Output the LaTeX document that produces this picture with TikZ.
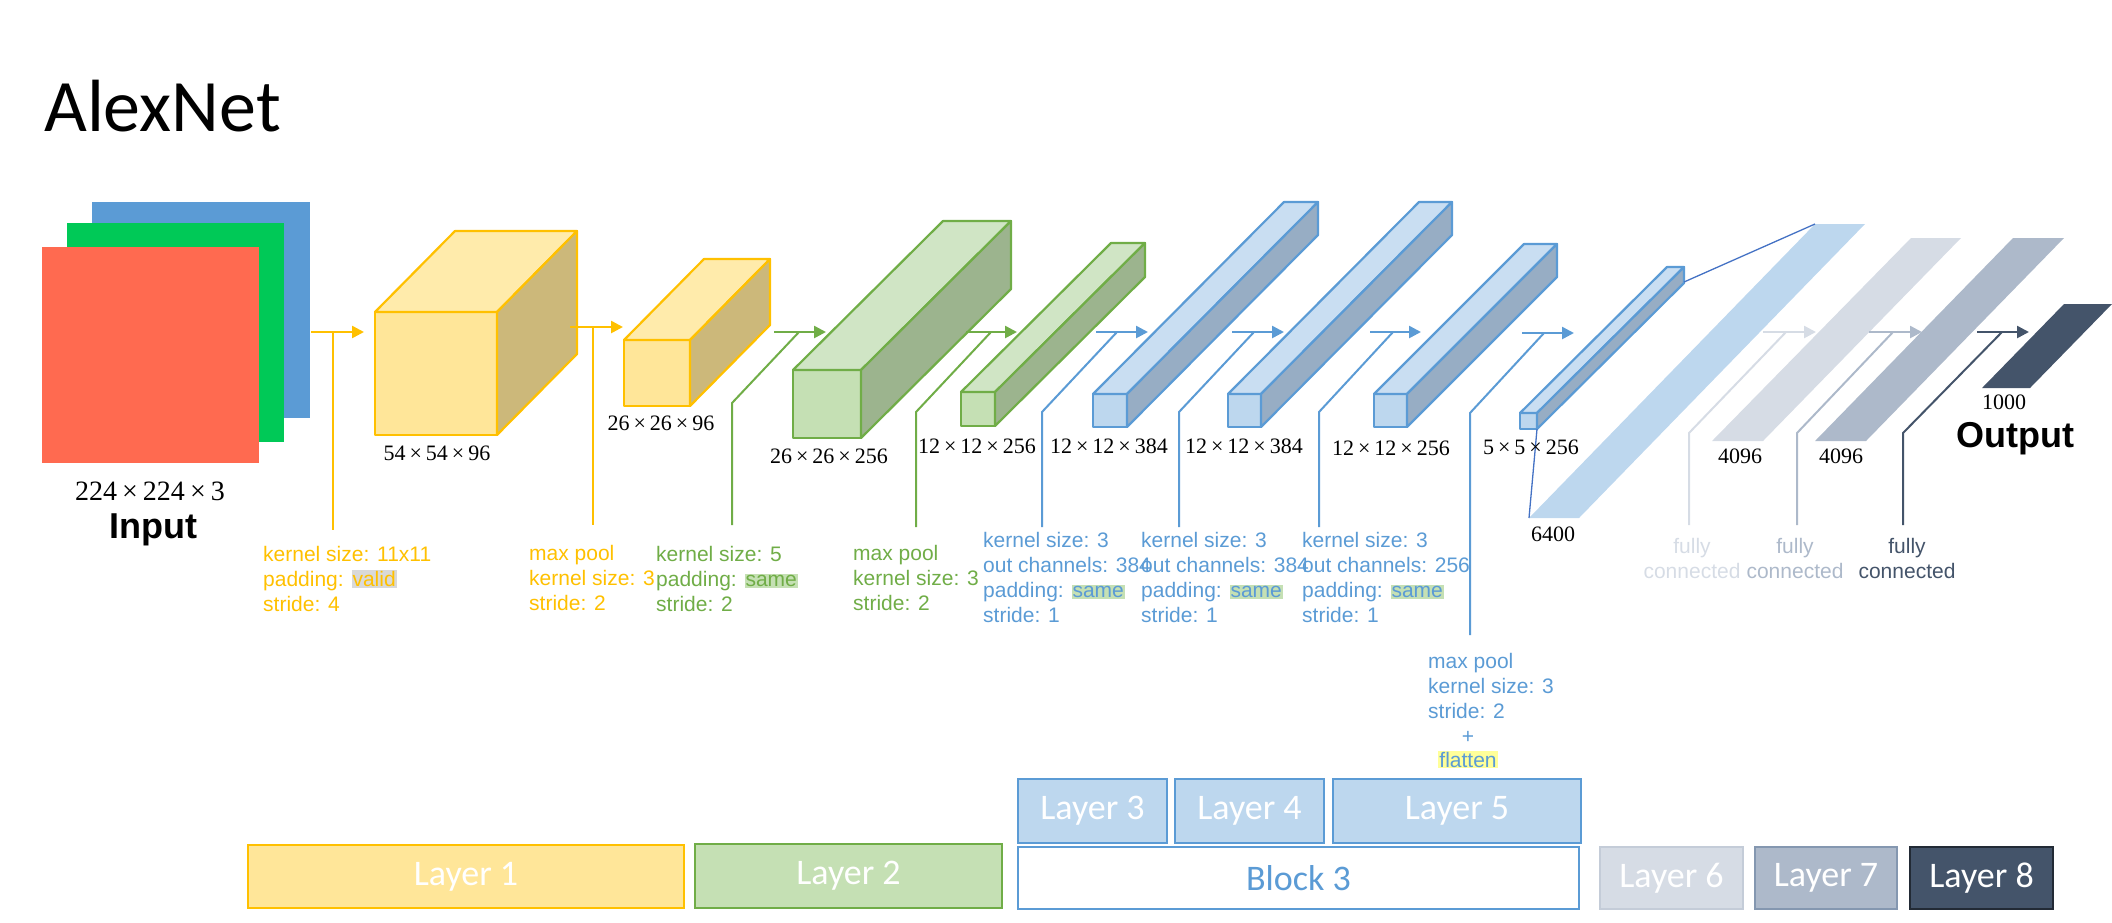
\documentclass[tikz,border=0pt]{standalone}
\usepackage{fontspec}
\newfontfamily\arial{Liberation Sans}
\newfontfamily\calib{Carlito}
\newfontfamily\cmb{Liberation Serif}
\usetikzlibrary{arrows.meta}
\definecolor{yel}{HTML}{FFC000}
\definecolor{yelF}{HTML}{FFE699}
\definecolor{yelT}{HTML}{FFEBAB}
\definecolor{yelS}{HTML}{CCB87A}
\definecolor{grn}{HTML}{70AD47}
\definecolor{grnF}{HTML}{C5E0B4}
\definecolor{grnT}{HTML}{D0E5C5}
\definecolor{grnS}{HTML}{9CB48E}
\definecolor{blu}{HTML}{5B9BD5}
\definecolor{bluF}{HTML}{BDD7EE}
\definecolor{bluT}{HTML}{C9DEF2}
\definecolor{bluS}{HTML}{97ADC4}
\definecolor{lsix}{HTML}{D6DCE5}
\definecolor{lsixB}{HTML}{C4CCD8}
\definecolor{lseven}{HTML}{ADB9CA}
\definecolor{lsevenB}{HTML}{8497B0}
\definecolor{leight}{HTML}{44546A}
\definecolor{leightB}{HTML}{222A35}
\definecolor{inB}{HTML}{5B9BD5}
\definecolor{inG}{HTML}{00C957}
\definecolor{inR}{HTML}{FF6A50}
\definecolor{linkB}{HTML}{4472C4}
\definecolor{glowG}{HTML}{C5E0B4}
\definecolor{glowV}{HTML}{D9D9D9}
\definecolor{glowY}{HTML}{FFFF99}
\newcommand{\hlw}[2]{{\setlength{\fboxsep}{1pt}\colorbox{#1}{#2}}}
\newcommand{\X}{\kern.18em×\kern.18em}
% cuboid: name, x, y, w, h, dx, dy(up), colour prefix
\newcommand{\cuboid}[8]{%
  \coordinate (#1) at (#2,#3);
  \filldraw[fill=#8F, draw=#8, boxline] (#2,#3) rectangle ++(#4,#5);
  \filldraw[fill=#8T, draw=#8, boxline] (#2,#3) -- ++(#6,-#7) -- ++(#4,0) -- ++(-#6,#7) -- cycle;
  \filldraw[fill=#8S, draw=#8, boxline] (#2+#4,#3) -- ++(#6,-#7) -- ++(0,#5) -- ++(-#6,#7) -- cycle;
}
\begin{document}
\begin{tikzpicture}[x=1pt,y=-1pt,
  boxline/.style={line width=2.2pt, line join=round},
  arr/.style={line width=2.5pt, -{Triangle[length=12pt,width=12pt]}},
  conn/.style={line width=2pt},
  annot/.style={anchor=north west, inner sep=0pt, align=left, font=\arial\fontsize{21}{25}\selectfont},
  fcl/.style={anchor=north, inner sep=0pt, align=center, font=\arial\fontsize{21}{25}\selectfont},
  dimlab/.style={anchor=base, inner sep=0pt, font=\cmb\fontsize{22}{26}\selectfont},
  numlab/.style={anchor=base, inner sep=0pt, font=\cmb\fontsize{22}{26}\selectfont},
  biglab/.style={anchor=base, inner sep=0pt, font=\arial\bfseries\fontsize{36}{40}\selectfont},
  lbox/.style={draw, line width=2pt, inner sep=0pt, font=\calib\fontsize{36}{40}\selectfont, text=white}]
\useasboundingbox (0,0) rectangle (2112,922);

% title
\node[anchor=base west, inner sep=0pt, font=\calib\fontsize{74}{80}\selectfont] (title) at (44,131) {AlexNet};

% input
\fill[inB] (92,202) rectangle (310,418);
\fill[inG] (67,223) rectangle (284,442);
\fill[inR] (42,247) rectangle (259,463);
\node[dimlab, font=\cmb\fontsize{28}{32}\selectfont] (inDim) at (150,500) {224\X224\X3};
\node[biglab] (inLab) at (153,538) {Input};

% cuboids
\cuboid{b1}{375}{312}{122}{123}{80}{81}{yel}
\cuboid{b2}{624}{340}{66}{66}{80}{81}{yel}
\cuboid{b3}{793}{370}{68}{68}{150}{149}{grn}
\cuboid{b4}{961}{392}{34}{34}{150}{149}{grn}
\cuboid{b5}{1093}{394}{34}{33}{191}{192}{blu}
\cuboid{b6}{1228}{394}{33}{33}{191}{192}{blu}
\cuboid{b7}{1374}{394}{33}{33}{150}{150}{blu}
\cuboid{b8}{1520}{413}{17}{16}{147}{146}{blu}

% flat layers
\fill[bluF] (1815,224) -- (1865,224) -- (1579,518) -- (1529,518) -- cycle;
\coordinate (p1tl) at (1815,224);
\coordinate (p1bl) at (1529,518);
\fill[lsix] (1911,238) -- (1961,238) -- (1763,441) -- (1712,441) -- cycle;
\fill[lseven] (2013,238) -- (2064,238) -- (1866,441) -- (1815,441) -- cycle;
\fill[leight] (2064,304) -- (2112,304) -- (2030,388) -- (1982,388) -- cycle;

% links from 5x5x256 to the flattened vector
\coordinate (b8tr) at (1684,282);
\coordinate (b8br) at (1537,429);
\draw[linkB, line width=1.3pt] (b8tr) -- (p1tl);
\draw[linkB, line width=1.3pt] (b8br) -- (p1bl);

% size labels
\node[dimlab] (d1) at (437,460) {54\X54\X96};
\node[dimlab] (d2) at (661,430) {26\X26\X96};
\node[dimlab] (d3) at (829,463) {26\X26\X256};
\node[dimlab] (d4) at (977,453) {12\X12\X256};
\node[dimlab] (d5) at (1109,453) {12\X12\X384};
\node[dimlab] (d6) at (1244,453) {12\X12\X384};
\node[dimlab] (d7) at (1391,455) {12\X12\X256};
\node[dimlab] (d8) at (1531,454) {5\X5\X256};
\node[numlab] (d9) at (1553,541) {6400};
\node[numlab] (d10) at (1740,463) {4096};
\node[numlab] (d11) at (1841,463) {4096};
\node[numlab] (d12) at (2004,409) {1000};
\node[biglab] (outLab) at (2015,447) {Output};

% arrows
\coordinate (a1s) at (311,332);  \coordinate (a1e) at (364,332);
\coordinate (a2s) at (570,327);  \coordinate (a2e) at (623,327);
\coordinate (a3s) at (774,332);  \coordinate (a3e) at (826,332);
\coordinate (a4s) at (966,332);  \coordinate (a4e) at (1017,332);
\coordinate (a5s) at (1096,332); \coordinate (a5e) at (1148,332);
\coordinate (a6s) at (1232,332); \coordinate (a6e) at (1284,332);
\coordinate (a7s) at (1370,332); \coordinate (a7e) at (1421,332);
\coordinate (a8s) at (1522,333); \coordinate (a8e) at (1574,333);
\coordinate (a9s) at (1763,332); \coordinate (a9e) at (1816,332);
\coordinate (a10s) at (1869,332); \coordinate (a10e) at (1922,332);
\coordinate (a11s) at (1977,332); \coordinate (a11e) at (2029,332);
\draw[arr, yel] (a1s) -- (a1e);
\draw[arr, yel] (a2s) -- (a2e);
\draw[arr, grn] (a3s) -- (a3e);
\draw[arr, grn] (a4s) -- (a4e);
\draw[arr, blu] (a5s) -- (a5e);
\draw[arr, blu] (a6s) -- (a6e);
\draw[arr, blu] (a7s) -- (a7e);
\draw[arr, blu] (a8s) -- (a8e);
\draw[arr, lsix] (a9s) -- (a9e);
\draw[arr, lseven] (a10s) -- (a10e);
\draw[arr, leight] (a11s) -- (a11e);

% annotation texts
\node[annot, text=yel] (t1) at (263,546) {kernel size: 11x11\\padding: \hlw{glowV}{valid}\\stride: 4};
\node[annot, text=yel] (t2) at (529,545) {max pool\\kernel size: 3\\stride: 2};
\node[annot, text=grn] (t3) at (656,546) {kernel size: 5\\padding: \hlw{glowG}{same}\\stride: 2};
\node[annot, text=grn] (t4) at (853,545) {max pool\\kernel size: 3\\stride: 2};
\node[annot, text=blu] (t5) at (983,532) {kernel size: 3\\out channels: 384\\padding: \hlw{glowG}{same}\\stride: 1};
\node[annot, text=blu] (t6) at (1141,532) {kernel size: 3\\out channels: 384\\padding: \hlw{glowG}{same}\\stride: 1};
\node[annot, text=blu] (t7) at (1302,532) {kernel size: 3\\out channels: 256\\padding: \hlw{glowG}{same}\\stride: 1};
\node[annot, text=blu] (t8) at (1428,653) {max pool\\kernel size: 3\\stride: 2};
\node[anchor=base, inner sep=0pt, text=blu, font=\arial\fontsize{21}{25}\selectfont] (t8p) at (1468,743) {+};
\node[anchor=base, inner sep=0pt, text=blu, font=\arial\fontsize{21}{25}\selectfont] (t8f) at (1468,767) {\hlw{glowY}{flatten}};
\node[fcl, text=lsix] (t9) at (1692,538) {fully\\connected};
\node[fcl, text=lseven] (t10) at (1795,538) {fully\\connected};
\node[fcl, text=leight] (t11) at (1907,538) {fully\\connected};

% connectors
\coordinate (c1t) at (333,332); \coordinate (c1b) at (333,530);
\coordinate (c2t) at (593,327); \coordinate (c2b) at (593,525);
\coordinate (c3t) at (799,332); \coordinate (c3m) at (732,403); \coordinate (c3b) at (732,525);
\coordinate (c4t) at (991,332); \coordinate (c4m) at (916,412); \coordinate (c4b) at (916,527);
\coordinate (c5t) at (1117,332); \coordinate (c5m) at (1042,412); \coordinate (c5b) at (1042,527);
\coordinate (c6t) at (1254,332); \coordinate (c6m) at (1179,412); \coordinate (c6b) at (1179,527);
\coordinate (c7t) at (1393,332); \coordinate (c7m) at (1319,412); \coordinate (c7b) at (1319,527);
\coordinate (c8t) at (1544,333); \coordinate (c8m) at (1470,413); \coordinate (c8b) at (1470,635);
\coordinate (c9t) at (1786,332); \coordinate (c9m) at (1689,433); \coordinate (c9b) at (1689,525);
\coordinate (c10t) at (1893,332); \coordinate (c10m) at (1797,433); \coordinate (c10b) at (1797,525);
\coordinate (c11t) at (2002,332); \coordinate (c11m) at (1903,433); \coordinate (c11b) at (1903,525);
\draw[conn, yel] (c1t) -- (c1b);
\draw[conn, yel] (c2t) -- (c2b);
\draw[conn, grn] (c3t) -- (c3m) -- (c3b);
\draw[conn, grn] (c4t) -- (c4m) -- (c4b);
\draw[conn, blu] (c5t) -- (c5m) -- (c5b);
\draw[conn, blu] (c6t) -- (c6m) -- (c6b);
\draw[conn, blu] (c7t) -- (c7m) -- (c7b);
\draw[conn, blu] (c8t) -- (c8m) -- (c8b);
\draw[conn, lsix] (c9t) -- (c9m) -- (c9b);
\draw[conn, lseven] (c10t) -- (c10m) -- (c10b);
\draw[conn, leight] (c11t) -- (c11m) -- (c11b);

% layer legend
\node[lbox, fill=yelF, draw=yel, minimum width=436pt, minimum height=63pt] (L1) at (466,876.5) {Layer 1};
\node[lbox, fill=grnF, draw=grn, minimum width=307pt, minimum height=64pt] (L2) at (848.5,876) {Layer 2};
\node[lbox, fill=bluF, draw=blu, minimum width=149pt, minimum height=64pt] (L3) at (1092.5,811) {Layer 3};
\node[lbox, fill=bluF, draw=blu, minimum width=149pt, minimum height=64pt] (L4) at (1249.5,811) {Layer 4};
\node[lbox, fill=bluF, draw=blu, minimum width=248pt, minimum height=64pt] (L5) at (1457,811) {Layer 5};
\node[lbox, fill=white, draw=blu, text=blu, minimum width=561pt, minimum height=62pt] (B3) at (1298.5,878) {Block 3};
\node[lbox, fill=lsix, draw=lsixB, minimum width=143pt, minimum height=62pt] (L6) at (1671.5,878) {Layer 6};
\node[lbox, fill=lseven, draw=lsevenB, minimum width=142pt, minimum height=62pt] (L7) at (1826,878) {Layer 7};
\node[lbox, fill=leight, draw=leightB, minimum width=143pt, minimum height=62pt] (L8) at (1981.5,878) {Layer 8};
\end{tikzpicture}
\end{document}
